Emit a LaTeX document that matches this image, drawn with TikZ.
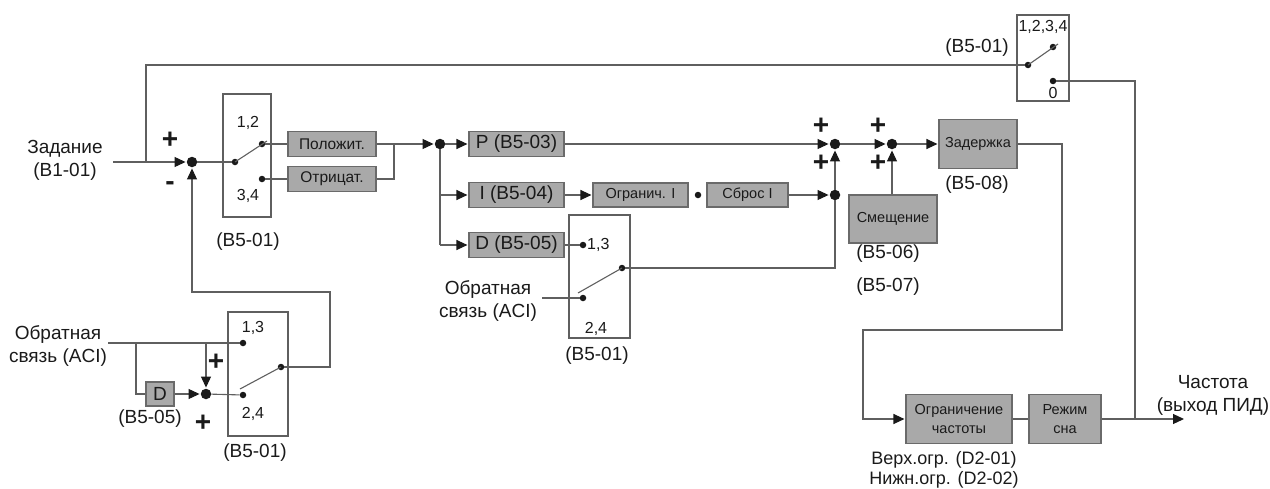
\documentclass[tikz,border=0pt]{standalone}
\usepackage{fontspec}
\setmainfont{Liberation Sans}
\usetikzlibrary{arrows.meta,calc}
\definecolor{lc}{HTML}{5F5F5F}
\definecolor{bf}{HTML}{A9A9A9}
\definecolor{bd}{HTML}{6A6A6A}
\definecolor{tc}{HTML}{1A1A1A}
\begin{document}
\begin{tikzpicture}[x=1pt,y=-1pt,
 ln/.style={draw=lc,line width=1.1pt},
 arr/.style={ln,-{Triangle[length=11pt,width=10pt,color=tc]},shorten >=1pt},
 blk/.style={draw=bd,fill=bf,line width=1.1pt,inner sep=0pt,text=tc,align=center},
 swbox/.style={draw=lc,line width=1.1pt,inner sep=0pt,rectangle},
 sdot/.style={circle,fill=tc,inner sep=0pt,minimum size=10.5pt},
 cdot/.style={circle,fill=tc,inner sep=0pt,minimum size=6.5pt},
 big/.style={font=\fontsize{19}{23}\selectfont,text=tc,align=center,inner sep=0pt},
 mid/.style={font=\fontsize{18}{20}\selectfont,text=tc,align=center,inner sep=0pt},
 sml/.style={font=\fontsize{14.5}{19}\selectfont},
 smlb/.style={font=\fontsize{15.5}{19}\selectfont},
 num/.style={font=\fontsize{16}{18}\selectfont,text=tc,inner sep=0pt},
 pm/.style={font=\fontsize{28}{28}\selectfont\bfseries,text=tc,inner sep=0pt},
]
\useasboundingbox (0,0) rectangle (1270,488);

% ---------- input and first summing point
\node[big] (zad) at (65,160) {Задание\\(B1-01)};
\coordinate (inL) at (113,162);
\coordinate (jT) at (146,162);
\node[sdot] (s0) at (192,162) {};
\draw[arr] (inL) -- (s0);
\node[pm] (p0) at (170,140) {+};
\node[pm] (m0) at (170,186) {-};

% ---------- switch 1
\node[swbox,minimum width=48pt,minimum height=123pt] (sw1) at (247,155.5) {};
\node[num] (n12) at (248,123) {1,2};
\node[num] (n34) at (248,196) {3,4};
\node[cdot] (p1) at (235,162) {};
\node[cdot] (c1a) at (262,144) {};
\node[cdot] (c1b) at (262,179) {};
\coordinate (a1) at (267,141);
\draw[ln] (p1.center) -- (a1);
\draw[ln] (s0) -- (p1);
\node[big] (l1) at (248,242) {(B5-01)};
\node[blk,smlb,minimum width=88pt,minimum height=25pt] (pos) at (332,144) {Положит.};
\node[blk,smlb,minimum width=88pt,minimum height=25pt] (neg) at (332,179) {Отрицат.};
\draw[ln] (c1a) -- (pos);
\draw[ln] (c1b) -- (neg);
\coordinate (jA) at (394,144);
\coordinate (jB) at (394,179);
\node[sdot] (d1) at (440,144) {};
\draw[ln] (pos) -- (jA);
\draw[ln] (neg) -- (jB) -- (jA);
\draw[arr] (jA) -- (d1);

% ---------- P, I, D branches
\node[blk,big,minimum width=95pt,minimum height=25pt] (P) at (516.5,144) {P (B5-03)};
\node[blk,big,minimum width=95pt,minimum height=25pt] (I) at (516.5,195) {I (B5-04)};
\node[blk,big,minimum width=95pt,minimum height=25pt] (D) at (516.5,245) {D (B5-05)};
\coordinate (vI) at (440,195);
\coordinate (vD) at (440,245);
\draw[arr] (d1) -- (P);
\draw[ln] (d1) -- (vD);
\draw[arr] (vI) -- (I);
\draw[arr] (vD) -- (D);
\node[blk,sml,minimum width=95pt,minimum height=24pt] (ogrI) at (640.5,195) {Огранич. I};
\node[cdot] (mdot) at (698,195) {};
\node[blk,sml,minimum width=81pt,minimum height=24pt] (sbr) at (747.5,195) {Сброс I};
\draw[arr] (I) -- (ogrI);
\node[sdot] (d2) at (835,195) {};
\draw[arr] (sbr) -- (d2);
\node[sdot] (s1) at (835,144) {};
\draw[arr] (P) -- (s1);
\draw[arr] (d2) -- (s1);
\node[pm] (p1a) at (821,126) {+};
\node[pm] (p1b) at (821,163) {+};

% ---------- switch 2
\node[swbox,minimum width=61pt,minimum height=123pt] (sw2) at (599.5,276.5) {};
\node[cdot] (c2a) at (583,245) {};
\node[cdot] (c2b) at (583,298) {};
\node[cdot] (p2) at (622,268) {};
\draw[ln] (578,293) -- (p2.center);
\draw[ln] (D) -- (c2a);
\node[num,anchor=west] (n13b) at (587,245) {1,3};
\node[num] (n24b) at (596,329) {2,4};
\node[big] (l2) at (597,356) {(B5-01)};
\node[big] (fb2) at (488,301) {Обратная\\связь (ACI)};
\coordinate (fb2e) at (542,298);
\draw[ln] (fb2e) -- (c2b);
\coordinate (k2) at (835,268);
\draw[ln] (p2) -- (k2) -- (d2);

% ---------- second summing point, bias, delay
\node[sdot] (s2) at (892,144) {};
\draw[arr] (s1) -- (s2);
\node[pm] (p2a) at (878,126) {+};
\node[pm] (p2b) at (878,163) {+};
\node[blk,sml,minimum width=88pt,minimum height=48pt] (sme) at (893,219) {Смещение};
\draw[arr] (s2 |- sme.north) -- (s2);
\node[big] (l6) at (888,254) {(B5-06)};
\node[big] (l7) at (888,287) {(B5-07)};
\node[blk,sml,minimum width=78pt,minimum height=49pt] (zd) at (978,144) {Задержка};
\draw[arr] (s2) -- (zd);
\node[big] (l8) at (977,185) {(B5-08)};

% ---------- output limits
\node[blk,sml,minimum width=106pt,minimum height=49pt] (ogr) at (959,419) {Ограничение\\частоты};
\node[blk,sml,minimum width=72pt,minimum height=49pt] (rez) at (1065,419) {Режим\\сна};
\coordinate (z1) at (1062,144);
\coordinate (z2) at (1062,330);
\coordinate (z3) at (863,330);
\coordinate (z4) at (863,419);
\draw[arr] (zd) -- (z1) -- (z2) -- (z3) -- (z4) -- (ogr);
\draw[ln] (ogr) -- (rez);
\coordinate (jo) at (1135,419);
\coordinate (out) at (1185,419);
\draw[arr] (rez) -- (out);
\node[big] (fq) at (1213,395) {Частота\\(выход ПИД)};
\node[mid] (lim) at (944,470) {Верх.огр. (D2-01)\\Нижн.огр. (D2-02)};

% ---------- switch 3 (bypass)
\node[swbox,minimum width=52pt,minimum height=86pt] (sw3) at (1043,58) {};
\node[num] (n1234) at (1043,27) {1,2,3,4};
\node[cdot] (p3) at (1028,65) {};
\node[cdot] (c3a) at (1053,47) {};
\node[cdot] (c3b) at (1053,81) {};
\draw[ln] (p3.center) -- (1058,44);
\node[num] (n0) at (1053,93) {0};
\node[big] (l3) at (977,48) {(B5-01)};
\coordinate (t1) at (146,65);
\draw[ln] (jT) -- (t1) -- (p3);
\coordinate (r1) at (1135,81);
\draw[ln] (c3b) -- (r1) -- (jo);

% ---------- feedback input
\node[big] (fb1) at (58,346) {Обратная\\связь (ACI)};
\coordinate (fb1e) at (108,343);
\node[swbox,minimum width=60pt,minimum height=124pt] (sw4) at (258,374) {};
\node[cdot] (c4a) at (243,343) {};
\node[cdot] (c4b) at (243,395) {};
\node[cdot] (p4) at (281,367) {};
\draw[ln] (240,389) -- (p4.center);
\node[num] (n13) at (253,328) {1,3};
\node[num] (n24) at (253,414) {2,4};
\node[big] (l4) at (255,453) {(B5-01)};
\coordinate (b1) at (136,343);
\coordinate (b2) at (136,394);
\coordinate (b3) at (206,343);
\node[blk,big,minimum width=28pt,minimum height=24pt] (D4) at (160,394) {D};
\node[sdot] (s3) at (206,394) {};
\draw[ln] (fb1e) -- (c4a);
\draw[ln] (b1) -- (b2) -- (D4);
\draw[arr] (D4) -- (s3);
\draw[arr] (b3) -- (s3);
\draw[ln] (s3) -- (c4b);
\node[pm] (p3a) at (216,362) {+};
\node[pm] (p3b) at (203,423) {+};
\node[big] (l5) at (150,419) {(B5-05)};
\coordinate (q1) at (330,367);
\coordinate (q2) at (330,292);
\coordinate (q3) at (192,292);
\draw[arr] (p4) -- (q1) -- (q2) -- (q3) -- (s0);
\end{tikzpicture}
\end{document}
